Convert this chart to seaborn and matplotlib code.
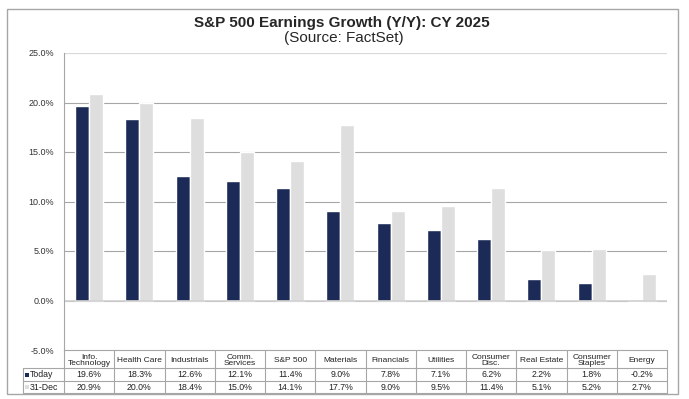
import seaborn as sns
import numpy as np
import pandas as pd
import matplotlib.pyplot as plt
from matplotlib.lines import Line2D
from matplotlib.patches import Rectangle

sns.set_style(style="white")
plt.rcParams['font.family'] = ['Liberation Sans', 'DejaVu Sans']

categories = ["Info.\nTechnology", "Health Care", "Industrials", "Comm.\nServices",
              "S&P 500", "Materials", "Financials", "Utilities", "Consumer\nDisc.",
              "Real Estate", "Consumer\nStaples", "Energy"]
today = [19.6, 18.3, 12.6, 12.1, 11.4, 9.0, 7.8, 7.1, 6.2, 2.2, 1.8, -0.2]
dec31 = [20.9, 20.0, 18.4, 15.0, 14.1, 17.7, 9.0, 9.5, 11.4, 5.1, 5.2, 2.7]
series = ["Today", "31-Dec"]
yticks = [-5, 0, 5, 10, 15, 20, 25]

NAVY = "#1b2a56"
LIGHT = "#dedede"
GRID = "#a6a6a6"
TXT = "#222222"
FS = 6.3

df = pd.DataFrame({
  'category': categories * 2,
  'series': [series[0]] * len(categories) + [series[1]] * len(categories),
  'value': today + dec31,
})

W, H = 689, 399
fig = plt.figure(figsize=(W / 100, H / 100), dpi=100)

def fx(x):
  return x / W

def fy(y):
  return 1 - y / H

# plot area in pixels
L, R, T, B = 64, 667, 53, 350
ax = fig.add_axes([fx(L), fy(B), fx(R - L), (B - T) / H])

sns.barplot(data=df, x='category', y='value', hue='series', order=categories,
            hue_order=series, palette=[NAVY, LIGHT], width=0.56, saturation=1,
            ax=ax, legend=False)

ax.set_ylim(-5, 25)
ax.set_xlim(-0.5, len(categories) - 0.5)
ax.set_yticks(yticks)
ax.set_yticklabels([f"{v:.1f}%" for v in yticks], fontsize=6.5, color="#333333")
ax.set_xticks([])
ax.set_xlabel("")
ax.set_ylabel("")
for v in yticks[1:-1]:
  ax.axhline(v, color=GRID, lw=0.8, zorder=0)
ax.axhline(25, color="#d9d9d9", lw=1.6, zorder=0)
ax.axhline(0, color="#d0d0d0", lw=1.2, zorder=1.5)
for s in ['top', 'right']:
  ax.spines[s].set_visible(False)
for s in ['left', 'bottom']:
  ax.spines[s].set_color(GRID)
  ax.spines[s].set_linewidth(0.8)
ax.tick_params(axis='y', length=4, color=GRID, pad=3)

# outer chart border
fig.add_artist(Rectangle((fx(7), fy(394)), fx(678 - 7), (394 - 9) / H,
                         fill=False, edgecolor="#a6a6a6", lw=1.0))

# titles
fig.text(fx(342), fy(23), "S&P 500 Earnings Growth (Y/Y): CY 2025",
         ha='center', va='center', fontsize=11, fontweight='bold')
fig.text(fx(344), fy(38), "(Source: FactSet)", ha='center', va='center', fontsize=11)

# data table under the chart
def hline(y, x0, x1):
  fig.add_artist(Line2D([fx(x0), fx(x1)], [fy(y), fy(y)], color=GRID, lw=0.8))

def vline(x, y0, y1):
  fig.add_artist(Line2D([fx(x), fx(x)], [fy(y0), fy(y1)], color=GRID, lw=0.8))

col_w = (R - L) / len(categories)
row_y = [350, 368, 381, 393]
label_x0 = 23
vline(L, B, row_y[-1])
vline(label_x0, row_y[1], row_y[-1])
for i in range(1, len(categories) + 1):
  vline(L + i * col_w, B, row_y[-1])
for y in row_y[1:]:
  hline(y, label_x0, R)

for i, cat in enumerate(categories):
  cx = L + (i + 0.5) * col_w
  fig.text(fx(cx), fy((row_y[0] + row_y[1]) / 2 + 1.5), cat, ha='center', va='center',
           fontsize=6.0, linespacing=0.85, color=TXT)
  fig.text(fx(cx), fy((row_y[1] + row_y[2]) / 2), f"{today[i]:.1f}%", ha='center',
           va='center', fontsize=FS, color=TXT)
  fig.text(fx(cx), fy((row_y[2] + row_y[3]) / 2), f"{dec31[i]:.1f}%", ha='center',
           va='center', fontsize=FS, color=TXT)

for r, (name, col) in enumerate(zip(series, [NAVY, LIGHT])):
  yc = (row_y[r + 1] + row_y[r + 2]) / 2
  fig.add_artist(Rectangle((fx(25), fy(yc + 2)), fx(4), 4 / H, color=col, lw=0))
  fig.text(fx(30), fy(yc), name, ha='left', va='center', fontsize=FS, color=TXT)

fig.savefig("out.png", dpi=100)
